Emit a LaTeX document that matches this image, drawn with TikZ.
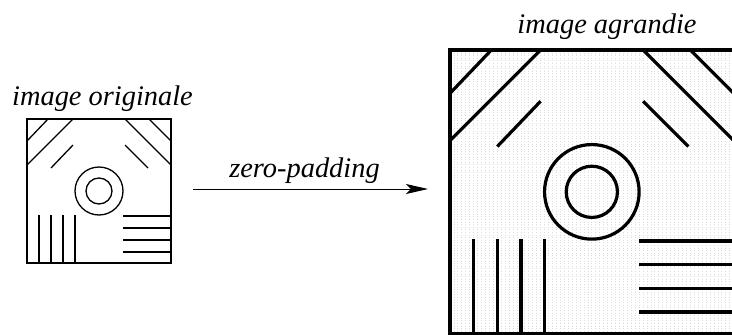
\documentclass[tikz,border=0pt]{standalone}
\usepackage{fontspec}
\setmainfont{Liberation Serif}
\usetikzlibrary{arrows.meta}
\newcommand\imgbody[2]{%
  \draw[line width=#2] (0,0) rectangle (144,144);
  \draw[line width=#1] (21,0)--(0,22) (46,0)--(0,46) (46,26)--(24,49)
    (98,0)--(144,46) (122,0)--(144,22) (98,26)--(121,49);
  \draw[line width=#1] (72,72) circle (24) (72,72) circle (13);
  \foreach \xx in {12,24,36,48} \draw[line width=#1] (\xx,96)--(\xx,144);
  \foreach \yy in {97,109,121,133} \draw[line width=#1] (96,\yy)--(144,\yy);
}
\begin{document}
\begin{tikzpicture}[x=1pt,y=-1pt,
  lbl/.style={font=\fontsize{28.4}{34}\selectfont\itshape, anchor=base, inner sep=0pt},
  texture/.style={black!14, line width=0.8pt, dash pattern=on 1pt off 1.6pt}]
\useasboundingbox (0,0) rectangle (732,335);
\fill[white] (0,0) rectangle (732,335);
% original image
\begin{scope}[shift={(27,119)}]
  \imgbody{1.3pt}{1.6pt}
\end{scope}
% enlarged image
\begin{scope}
  \clip (0,0) rectangle (732,335);
  \begin{scope}[shift={(450,50)}, scale=1.97]
    \foreach \g in {2,4,...,142} {
      \draw[texture] (\g,0)--(\g,144);
    }
    \imgbody{3.2pt}{4pt}
  \end{scope}
\end{scope}
% labels
\node[lbl] (t1) at (102.5,105) {image originale};
\node[lbl] (t2) at (607,33) {image agrandie};
\coordinate (a) at (193,189);
\coordinate (b) at (428,189);
\draw[line width=1pt, -{Stealth[length=22pt,width=10pt,inset=5pt]}] (a) -- (b);
\node[lbl] (t3) at (304.5,177) {zero-padding};
\end{tikzpicture}
\end{document}
